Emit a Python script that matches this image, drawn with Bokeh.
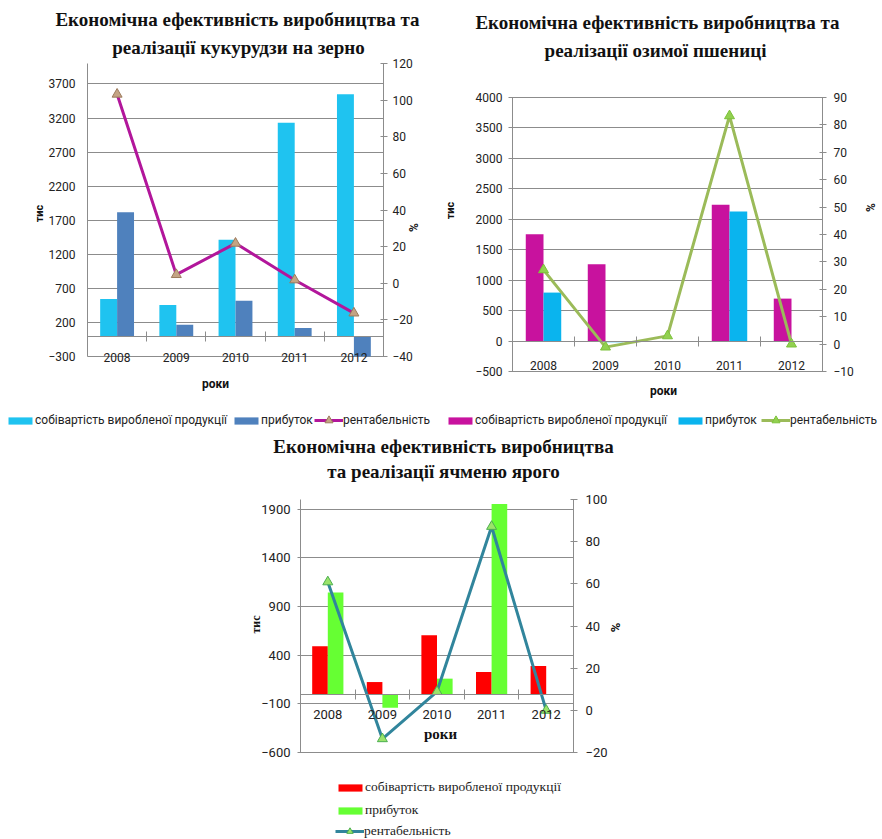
import numpy as np
from bokeh.plotting import figure
from bokeh.models import Range1d, LinearAxis, FixedTicker, Grid, Legend, LegendItem, Label
from bokeh.layouts import column, row
from bokeh.embed import file_html
from bokeh.resources import INLINE

years = ["2008", "2009", "2010", "2011", "2012"]

# Кукурудза на зерно
corn_cost = [544, 456, 1412, 3132, 3549]
corn_profit = [1818, 166, 519, 118, -300]
corn_rent = [103.2, 4.7, 21.8, 1.8, -16.3]
corn_left = (-300, 4000)
corn_right = (-40, 120)
corn_left_ticks = [-300, 200, 700, 1200, 1700, 2200, 2700, 3200, 3700]
corn_right_ticks = [-40, -20, 0, 20, 40, 60, 80, 100, 120]

# Озима пшениця
wheat_cost = [1755, 1262, 0, 2239, 697]
wheat_profit = [796, -20, 0, 2127, 0]
wheat_rent = [27.1, -1.1, 3.0, 83.3, 0.0]
wheat_left = (-500, 4000)
wheat_right = (-10, 90)
wheat_left_ticks = [-500, 0, 500, 1000, 1500, 2000, 2500, 3000, 3500, 4000]
wheat_right_ticks = [-10, 0, 10, 20, 30, 40, 50, 60, 70, 80, 90]

# Ячмінь ярий
barley_cost = [492, 124, 605, 227, 289]
barley_profit = [1045, -140, 159, 1955, 0]
barley_rent = [60.9, -13.5, 8.9, 87.2, 0.0]
barley_left = (-600, 2000)
barley_right = (-20, 100)
barley_left_ticks = [-600, -100, 400, 900, 1400, 1900]
barley_right_ticks = [-20, 0, 20, 40, 60, 80, 100]

title_common = "Економічна ефективність виробництва та"
title_corn2 = "реалізації кукурудзи на зерно"
title_wheat2 = "реалізації озимої пшениці"
title_barley1 = "Економічна ефективність виробництва"
title_barley2 = "та реалізації ячменю ярого"
lbl_cost = "собівартість виробленої продукції"
lbl_profit = "прибуток"
lbl_rent = "рентабельність"
x_title = "роки"
y_title = "тис"
y2_title = "%"

GRID = "#8c8c8c"
TXT = "#222222"
SANS = "Roboto"
SERIF = "Liberation Serif"

xs = np.arange(1, len(years) + 1)
X0, X1 = 0.5, len(years) + 0.5
BW = 0.286


def span_range(a0, a1, lo_px, hi_px, total_px):
    # data interval (a0, a1) occupies pixels lo_px..hi_px of a canvas of total_px
    ppu = (hi_px - lo_px) / (a1 - a0)
    return Range1d(a0 - lo_px / ppu, a1 + (total_px - hi_px) / ppu)


def make_fig(W, H, area, yl, yr):
    L, T, R, B = area
    p = figure(width=W, height=H,
               x_range=span_range(X0, X1, L, R, W),
               y_range=span_range(yl[0], yl[1], H - B, H - T, H),
               x_axis_type=None, y_axis_type=None,
               output_backend="svg", toolbar_location=None,
               min_border_left=0, min_border_right=0, min_border_top=0, min_border_bottom=0)
    p.title.visible = False
    p.extra_y_ranges = {"pct": span_range(yr[0], yr[1], H - B, H - T, H)}
    p.outline_line_color = None
    p.background_fill_color = "white"
    p.border_fill_color = "white"
    return p


def add_axes(p, yl, yr, lticks, rticks, size, l_in, l_out, l_st, r_in, r_out, r_st, c_st):
    lt = FixedTicker(ticks=lticks, minor_ticks=[])
    if "cross_bounds" in Grid.properties():
        p.add_layout(Grid(dimension=1, ticker=lt, grid_line_color=GRID, cross_bounds=(X0, X1)))
    else:
        p.segment(x0=[X0] * len(lticks), x1=[X1] * len(lticks), y0=lticks, y1=lticks,
                  line_color=GRID, line_width=1)
    la = LinearAxis(ticker=lt, fixed_location=X0, bounds=yl,
                    major_tick_in=l_in, major_tick_out=l_out,
                    minor_tick_in=0, minor_tick_out=0, axis_line_color=GRID,
                    major_tick_line_color=GRID, major_label_text_font=SANS,
                    major_label_text_font_size=size, major_label_text_color=TXT,
                    major_label_standoff=l_st)
    p.add_layout(la, "left")
    rt = FixedTicker(ticks=rticks, minor_ticks=[])
    ra = LinearAxis(y_range_name="pct", ticker=rt, fixed_location=X1, bounds=yr,
                    major_tick_in=r_in, major_tick_out=r_out,
                    minor_tick_in=0, minor_tick_out=0, axis_line_color=GRID,
                    major_tick_line_color=GRID, major_label_text_font=SANS,
                    major_label_text_font_size=size, major_label_text_color=TXT,
                    major_label_standoff=r_st)
    p.add_layout(ra, "right")
    ct = FixedTicker(ticks=list(xs), minor_ticks=list(xs[:-1] + 0.5))
    ca = LinearAxis(ticker=ct, fixed_location=0, bounds=(X0, X1),
                    major_tick_in=0, major_tick_out=0,
                    minor_tick_in=5, minor_tick_out=5, minor_tick_line_color=GRID,
                    axis_line_color=GRID,
                    major_label_overrides={int(i): y for i, y in zip(xs, years)},
                    major_label_text_font=SANS, major_label_text_font_size=size,
                    major_label_text_color=TXT, major_label_standoff=c_st)
    p.add_layout(ca, "below")


def lab(p, H, x, y, text, font, size, bold=True, angle=0.0):
    # x, y: canvas pixels measured from the top-left corner
    p.add_layout(Label(x=x, y=H - y, x_units="screen", y_units="screen", text=text,
                       text_font=font, text_font_size=size,
                       text_font_style="bold" if bold else "normal",
                       text_align="center", text_baseline="middle",
                       text_color="#111111", angle=angle))


def series(p, cost, profit, rent, c_cost, c_profit, c_line, m_fill, m_line):
    r1 = p.vbar(x=xs - BW / 2, top=cost, bottom=0, width=BW, fill_color=c_cost, line_color=None)
    r2 = p.vbar(x=xs + BW / 2, top=profit, bottom=0, width=BW, fill_color=c_profit, line_color=None)
    r3 = p.line(xs, rent, y_range_name="pct", line_color=c_line, line_width=3)
    r4 = p.scatter(xs, rent, y_range_name="pct", marker="triangle", size=10,
                   fill_color=m_fill, line_color=m_line, line_width=1)
    return r1, r2, r3, r4


def legends(p, H, rs, bar_loc, line_loc, orient, font, size, spacing, line_gh=20):
    common = dict(padding=0, margin=0, label_standoff=0, label_height=14,
                  label_text_font=font, label_text_font_size=size, label_text_color=TXT,
                  border_line_alpha=0, background_fill_alpha=0)
    la = Legend(items=[LegendItem(label=lbl_cost, renderers=[rs[0]]),
                       LegendItem(label=lbl_profit, renderers=[rs[1]])],
                location=(bar_loc[0], H - bar_loc[1]), orientation=orient,
                glyph_width=30, glyph_height=9, spacing=spacing, **common)
    lb = Legend(items=[LegendItem(label=lbl_rent, renderers=[rs[2], rs[3]])],
                location=(line_loc[0], H - line_loc[1]), orientation=orient,
                glyph_width=29, glyph_height=line_gh, spacing=0, **common)
    p.add_layout(la)
    p.add_layout(lb)


# ---------- Chart 1 (canvas at page 0,0) ----------
W1, H1 = 440, 436
p1 = make_fig(W1, H1, (87, 63, 383, 356), corn_left, corn_right)
add_axes(p1, corn_left, corn_right, corn_left_ticks, corn_right_ticks, "12px",
         0, 0, 12, 3, 4, 5, 12)
c1 = series(p1, corn_cost, corn_profit, corn_rent, "#1FC3F0", "#4F81BD", "#B2169B", "#C4A484", "#9C7A5C")
lab(p1, H1, 237, 19, title_common, SERIF, "19px")
lab(p1, H1, 238, 47, title_corn2, SERIF, "19px")
lab(p1, H1, 39, 213, y_title, SANS, "11px", angle=np.pi / 2)
lab(p1, H1, 413, 227, y2_title, SANS, "12px", angle=np.pi / 2)
lab(p1, H1, 215, 383, x_title, SANS, "12px")
legends(p1, H1, c1, (5, 427), (314, 430), "horizontal", SANS, "12px", 4)

# ---------- Chart 2 (canvas at page 440,0) ----------
W2, H2 = 442, 436
p2 = make_fig(W2, H2, (72, 97, 382, 371), wheat_left, wheat_right)
add_axes(p2, wheat_left, wheat_right, wheat_left_ticks, wheat_right_ticks, "12px",
         3, 4, 6, 3, 4, 7, 15)
c2 = series(p2, wheat_cost, wheat_profit, wheat_rent, "#C8129E", "#0AB4EE", "#9BBB59", "#92D050", "#7CC23A")
lab(p2, H2, 217, 22, title_common, SERIF, "19px")
lab(p2, H2, 215, 50, title_wheat2, SERIF, "19px")
lab(p2, H2, 10, 210, y_title, SANS, "11px", angle=np.pi / 2)
lab(p2, H2, 430, 207, y2_title, SANS, "12px", angle=np.pi / 2)
lab(p2, H2, 223, 390, x_title, SANS, "12px")
legends(p2, H2, c2, (5, 427), (321, 430), "horizontal", SANS, "12px", 8)

# ---------- Chart 3 (canvas at page 0,436) ----------
W3, H3 = 882, 403
p3 = make_fig(W3, H3, (300, 63, 573, 316), barley_left, barley_right)
add_axes(p3, barley_left, barley_right, barley_left_ticks, barley_right_ticks, "13px",
         3, 3, 7, 3, 4, 8, 11)
c3 = series(p3, barley_cost, barley_profit, barley_rent, "#FF0000", "#66FF33", "#31859C", "#9BE36A", "#4CAF50")
lab(p3, H3, 443, 10, title_barley1, SERIF, "19px")
lab(p3, H3, 443, 35, title_barley2, SERIF, "19px")
lab(p3, H3, 255, 188, y_title, SERIF, "12px", angle=np.pi / 2)
lab(p3, H3, 615, 191, y2_title, SANS, "13px", angle=np.pi / 2)
lab(p3, H3, 440, 297, x_title, SERIF, "15px")
legends(p3, H3, c3, (335, 382), (335, 403), "vertical", SERIF, "13.5px", 7, line_gh=16)

layout = column(row(p1, p2), p3)
open("out.html", "w").write(file_html(layout, INLINE))
